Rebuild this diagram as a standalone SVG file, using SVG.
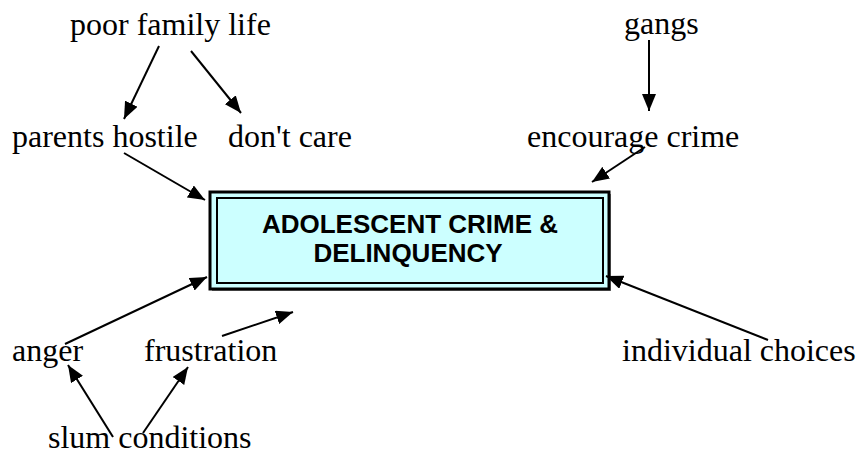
<svg xmlns="http://www.w3.org/2000/svg" width="857" height="456" viewBox="0 0 857 456">
<style>
.lbl{font-family:"Liberation Serif","Times New Roman",serif;font-size:32px;fill:#000}
.ttl{font-family:"Liberation Sans",Arial,sans-serif;font-size:26px;font-weight:bold;fill:#000;text-anchor:middle}
.con line{stroke:#000;stroke-width:2;marker-end:url(#ah)}
</style>
<defs>
<marker id="ah" markerUnits="userSpaceOnUse" markerWidth="18" markerHeight="14" viewBox="0 0 18 14" refX="17" refY="7" orient="auto">
<path d="M0,0 L17,7 L0,14 Z" fill="#000"/>
</marker>
</defs>
<rect width="857" height="456" fill="#fff"/>
<g id="box">
<rect x="212" y="194" width="399" height="97" fill="#808080"/>
<rect x="210" y="192" width="399" height="97" fill="#ccffff" stroke="#000" stroke-width="3"/>
<rect x="217" y="198" width="386" height="85" fill="#ccffff" stroke="#000" stroke-width="2"/>
<text class="ttl" x="410" y="233">ADOLESCENT CRIME &amp;</text>
<text class="ttl" x="408" y="262">DELINQUENCY</text>
</g>
<g id="poor-family-life"><text class="lbl" x="70" y="35">poor family life</text></g>
<g id="parents-hostile"><text class="lbl" x="12" y="147">parents hostile</text></g>
<g id="dont-care"><text class="lbl" x="228" y="147">don't care</text></g>
<g id="gangs"><text class="lbl" x="624" y="34">gangs</text></g>
<g id="encourage-crime"><text class="lbl" x="527" y="147">encourage crime</text></g>
<g id="anger"><text class="lbl" x="12" y="361">anger</text></g>
<g id="frustration"><text class="lbl" x="144" y="361">frustration</text></g>
<g id="slum-conditions"><text class="lbl" x="48" y="448">slum conditions</text></g>
<g id="individual-choices"><text class="lbl" x="622" y="361">individual choices</text></g>
<g id="connectors" class="con">
<line x1="159" y1="46" x2="124" y2="119"/>
<line x1="191" y1="51" x2="241" y2="113"/>
<line x1="124" y1="153" x2="205" y2="200"/>
<line x1="649" y1="40" x2="649" y2="111"/>
<line x1="645" y1="147" x2="592" y2="182"/>
<line x1="65" y1="344" x2="207" y2="277"/>
<line x1="222" y1="336" x2="293" y2="312"/>
<line x1="113" y1="437" x2="68" y2="365"/>
<line x1="143" y1="433" x2="188" y2="367"/>
<line x1="768" y1="340" x2="606" y2="276"/>
</g>
</svg>
